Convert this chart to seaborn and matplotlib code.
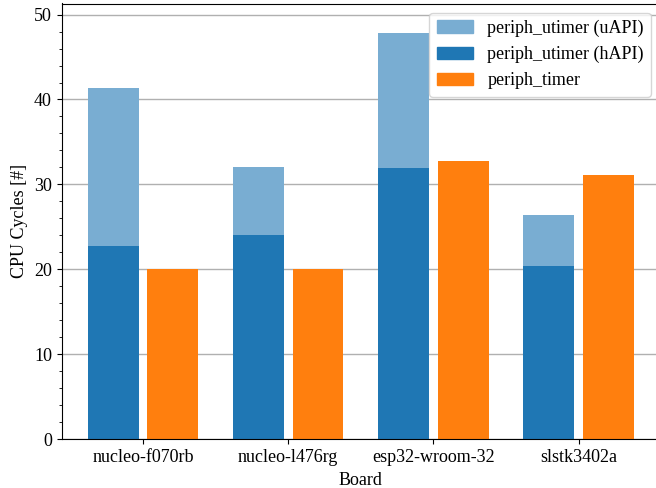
import numpy as np
import pandas as pd
import seaborn as sns
import matplotlib.pyplot as plt
from matplotlib.patches import Patch
from matplotlib.ticker import AutoMinorLocator

# board names and measured cycles
boards = ["nucleo-f070rb", "nucleo-l476rg", "esp32-wroom-32", "slstk3402a"]
utimer_uapi_total = [41.3, 32.1, 47.8, 26.35]
utimer_hapi = [22.7, 24.1, 31.9, 20.35]
timer = [20.0, 20.1, 32.8, 31.1]

plt.rcParams["font.family"] = ["Liberation Serif", "DejaVu Serif"]
plt.rcParams["font.size"] = 13

blue = "#1f77b4"
orange = "#ff7f0e"
light_blue = (0.6 * 31 / 255 + 0.4, 0.6 * 119 / 255 + 0.4, 0.6 * 180 / 255 + 0.4)
kinds = ["utimer", "timer"]

# totals (uAPI on top of hAPI) next to periph_timer
totals = pd.DataFrame({
    "board": boards * 2,
    "kind": ["utimer"] * 4 + ["timer"] * 4,
    "cycles": utimer_uapi_total + timer,
})
hapi = pd.DataFrame({"board": boards, "kind": ["utimer"] * 4, "cycles": utimer_hapi})

fig = plt.figure(figsize=(6.56, 4.88), dpi=100)
ax = fig.add_axes([61.7 / 656, 48.7 / 488, (660 - 61.7) / 656, (439.3 - 3.5) / 488])

bar_kw = dict(x="board", y="cycles", hue="kind", hue_order=kinds, width=0.82,
              gap=0.146, dodge=True, errorbar=None, saturation=1, legend=False, ax=ax)
sns.barplot(data=totals, palette={"utimer": light_blue, "timer": orange}, **bar_kw)
sns.barplot(data=hapi, palette={"utimer": blue, "timer": orange}, **bar_kw)

ax.set_xlim(-0.56, 3.56)
ax.set_ylim(0, 51.3)
ax.yaxis.set_minor_locator(AutoMinorLocator(5))
ax.set_axisbelow(True)
ax.grid(axis="y", color="#b0b0b0", linewidth=1)
ax.set_xlabel("Board")
ax.set_ylabel("CPU Cycles [#]")

handles = [Patch(color=light_blue, label="periph_utimer (uAPI)"),
           Patch(color=blue, label="periph_utimer (hAPI)"),
           Patch(color=orange, label="periph_timer")]
ax.legend(handles=handles, loc="upper right")

fig.savefig("out.png", dpi=100)
